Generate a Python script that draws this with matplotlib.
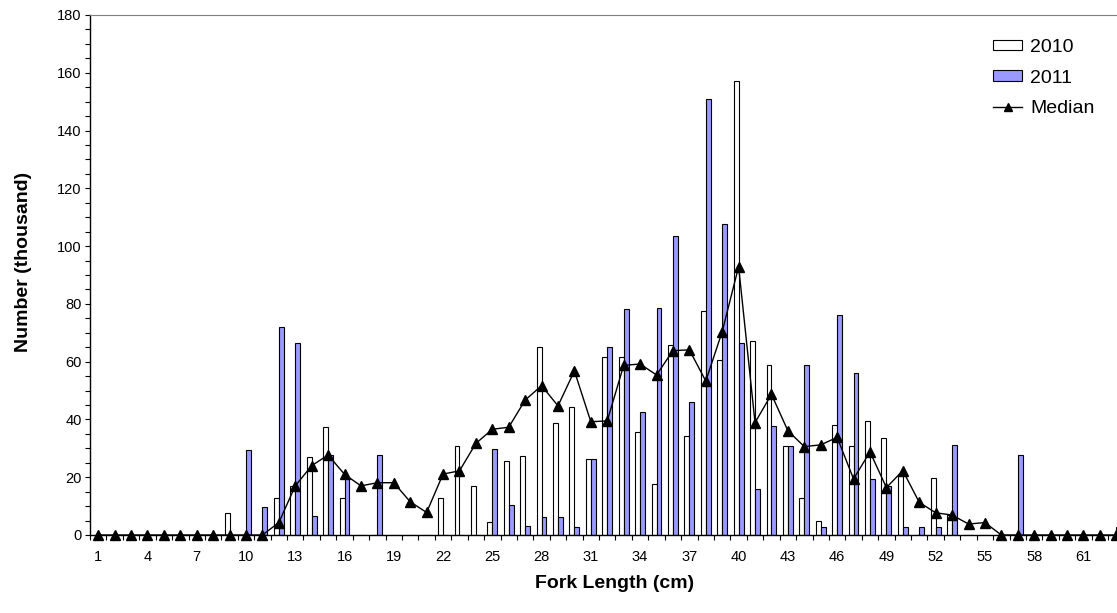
import numpy as np
import matplotlib.pyplot as plt
from matplotlib.patches import Patch
from matplotlib.lines import Line2D
from matplotlib.ticker import MultipleLocator, FixedLocator

plt.rcParams['font.family'] = ['Liberation Sans', 'DejaVu Sans']

# fork length classes (cm)
lengths = list(range(1, 64))

# numbers (thousand), index 0 -> 1 cm
y2010 = [0, 0, 0, 0, 0, 0, 0, 0, 7.5, 0,
         0, 12.9, 17.1, 27, 37.3, 12.9, 0, 0, 0, 0,
         0, 12.9, 30.8, 17.1, 4.6, 25.7, 27.5, 65, 38.9, 44.3,
         26.2, 61.7, 61.7, 35.7, 17.5, 65.9, 34.2, 77.5, 60.5, 157.3,
         67.2, 58.8, 30.7, 12.9, 4.7, 38.1, 30.8, 39.4, 33.7, 20.4,
         0, 19.8, 6.9, 0, 0, 0, 0, 0, 0, 0,
         0, 0, 0]
y2011 = [0, 0, 0, 0, 0, 0, 0, 0, 0, 29.4,
         9.6, 72.1, 66.3, 6.7, 27.6, 20.2, 0, 27.7, 0, 0,
         0, 0, 0, 0, 29.8, 10.4, 3.2, 6.2, 6.2, 2.9,
         26.4, 65, 78.2, 42.7, 78.7, 103.6, 45.9, 151.0, 107.6, 66.3,
         15.8, 37.7, 30.7, 58.8, 2.9, 76.2, 56, 19.5, 16.8, 2.9,
         2.9, 2.9, 31, 0, 0, 0, 27.7, 0, 0, 0,
         0, 0, 2.9]
median = [0, 0, 0, 0, 0, 0, 0, 0, 0, 0,
          0, 4.3, 17, 24, 27.7, 21, 17, 18.1, 18.1, 11.5,
          7.8, 21.1, 22.2, 31.7, 36.6, 37.3, 46.7, 51.7, 44.7, 56.8,
          39.2, 39.5, 58.7, 59.2, 55.4, 63.8, 64.1, 53.3, 70.4, 92.9,
          38.9, 48.7, 36.1, 30.6, 31.2, 33.8, 19.4, 28.8, 16.4, 22.3,
          11.3, 7.7, 6.9, 3.8, 4.3, 0, 0, 0, 0, 0,
          0, 0, 0]

x = np.array(lengths)
w = 0.3

fig = plt.figure(figsize=(11.17, 6.13), dpi=100)
ax = fig.add_axes([90 / 1117, 78 / 613, 1034.5 / 1117, 520 / 613])

ax.bar(x - w / 2, y2010, width=w, color='white', edgecolor='black', linewidth=0.8, zorder=2)
ax.bar(x + w / 2, y2011, width=w, color='#9999FF', edgecolor='black', linewidth=0.8, zorder=2)
ax.plot(x, median, color='black', linewidth=1, marker='^', markersize=6.5, zorder=3,
        clip_on=False)

ax.set_xlim(0.5, 63.5)
ax.set_ylim(0, 180)

ax.yaxis.set_major_locator(MultipleLocator(20))
ax.yaxis.set_minor_locator(MultipleLocator(5))
ax.set_xticks(x[::3])
ax.set_xticklabels([str(v) for v in lengths[::3]])
ax.xaxis.set_minor_locator(FixedLocator(np.arange(0.5, 64, 1)))
ax.tick_params(axis='x', which='major', length=0, labelsize=10.5, pad=11)
ax.tick_params(axis='x', which='minor', length=3.6, width=0.8)
ax.tick_params(axis='y', which='major', length=3.6, width=0.8, labelsize=10.5, pad=2.5)
ax.tick_params(axis='y', which='minor', length=3.6, width=0.8)

ax.spines['top'].set_color('#808080')
ax.spines['right'].set_color('#808080')
ax.spines['left'].set_linewidth(1)
ax.spines['bottom'].set_linewidth(1)

ax.set_xlabel('Fork Length (cm)', fontsize=14, fontweight='bold')
ax.set_ylabel('Number (thousand)', fontsize=14, fontweight='bold')
ax.xaxis.set_label_coords(0.507, -0.077)
ax.yaxis.set_label_coords(-0.056, 0.525)

handles = [Patch(facecolor='white', edgecolor='black', linewidth=0.8, label='2010'),
           Patch(facecolor='#9999FF', edgecolor='black', linewidth=0.8, label='2011'),
           Line2D([], [], color='black', linewidth=1, marker='^', markersize=6, label='Median')]
ax.legend(handles=handles, loc='upper left', bbox_to_anchor=(993 / 1117, 1 - 39 / 613),
          bbox_transform=fig.transFigure, frameon=False, fontsize=14,
          handlelength=1.5, handleheight=0.45, handletextpad=0.4, labelspacing=0.7,
          borderpad=0, borderaxespad=0)

fig.savefig('out.png', dpi=100)
